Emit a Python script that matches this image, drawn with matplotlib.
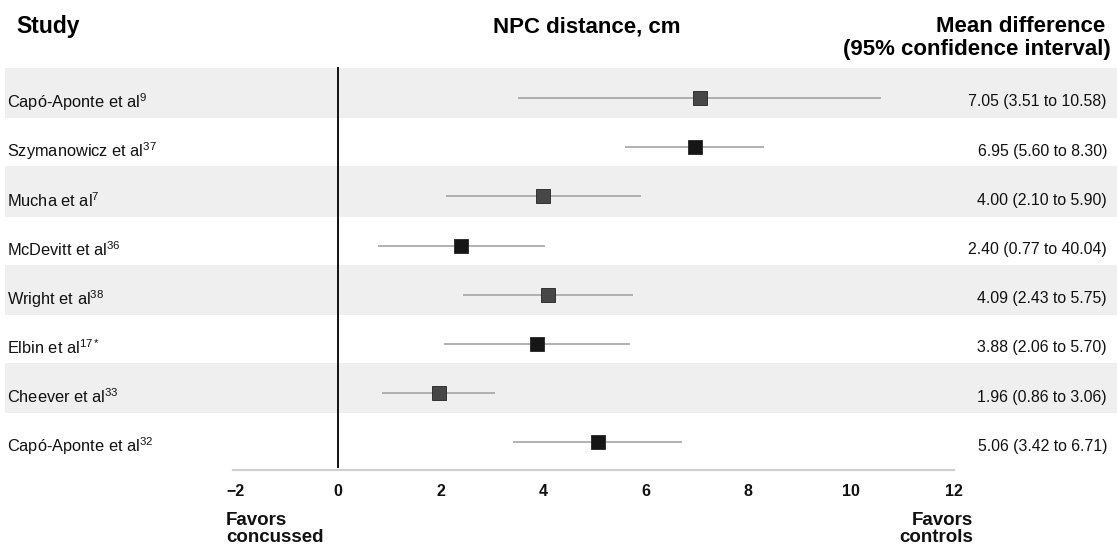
import matplotlib
matplotlib.use("Agg")
import matplotlib.pyplot as plt
from matplotlib import font_manager

studies = ["Capó-Aponte et al", "Szymanowicz et al", "Mucha et al", "McDevitt et al",
           "Wright et al", "Elbin et al", "Cheever et al", "Capó-Aponte et al"]
refs = ["9", "37", "7", "36", "38", "17*", "33", "32"]
mean_diff = [7.05, 6.95, 4.00, 2.40, 4.09, 3.88, 1.96, 5.06]
ci_low = [3.51, 5.60, 2.10, 0.77, 2.43, 2.06, 0.86, 3.42]
ci_high = [10.58, 8.30, 5.90, 4.04, 5.75, 5.70, 3.06, 6.71]
# printed labels as in the source (row 4 upper bound printed as 40.04)
ci_text = ["7.05 (3.51 to 10.58)", "6.95 (5.60 to 8.30)", "4.00 (2.10 to 5.90)",
           "2.40 (0.77 to 40.04)", "4.09 (2.43 to 5.75)", "3.88 (2.06 to 5.70)",
           "1.96 (0.86 to 3.06)", "5.06 (3.42 to 6.71)"]
xticks = [-2, 0, 2, 4, 6, 8, 10, 12]

names = {f.name for f in font_manager.fontManager.ttflist}
sans = "Liberation Sans" if "Liberation Sans" in names else "DejaVu Sans"
narrow = "Liberation Sans Narrow" if "Liberation Sans Narrow" in names else sans

plt.rcParams["font.family"] = [sans, "DejaVu Sans"]
plt.rcParams["mathtext.fontset"] = "custom"
plt.rcParams["mathtext.rm"] = sans
plt.rcParams["mathtext.it"] = sans

W, H = 1117, 548
fig = plt.figure(figsize=(W / 100, H / 100), dpi=100)
ax = fig.add_axes([0, 0, 1, 1])
ax.set_axis_off()

# pixel layout: x=0 at 338 px, 51.3 px per unit; row 0 at 98 px, 49.2 px per row
px_unit, x0 = 51.3, 338
row0, row_h = 98, 49.2
ax.set_xlim(-x0 / px_unit, (W - x0) / px_unit)
ax.set_ylim((H - row0) / row_h, -row0 / row_h)

n = len(studies)
for i in range(n):
    if i % 2 == 0:
        ax.axhspan(i - 0.61, i + 0.41, xmin=5 / W, xmax=1, color="#efefef", lw=0, zorder=0)

ax.plot([0, 0], [-0.6, n - 0.5], color="#111111", lw=1.4, zorder=2)
ax.plot([xticks[0] - 0.05, xticks[-1]], [n - 0.43, n - 0.43], color="#d0d0d0", lw=1.6, zorder=1)

txt_off = 0.08
for i in range(n):
    ax.plot([ci_low[i], ci_high[i]], [i, i], color="#ababab", lw=1.3, zorder=3,
            solid_capstyle="butt")
    fc = "#474747" if i % 2 == 0 else "#161616"
    ax.plot(mean_diff[i], i, marker="s", ms=10, mfc=fc, mec="#222222", mew=0.6, zorder=4)
    ax.text(7 / px_unit - x0 / px_unit, i + txt_off, f"{studies[i]}$^{{{refs[i]}}}$",
            fontsize=11.8, ha="left", va="center", color="#111111")
    ax.text((1107 - x0) / px_unit, i + txt_off, ci_text[i], fontsize=11.4, ha="right",
            va="center", color="#111111")

for t in xticks:
    label = f"\u2212{abs(t)}" if t < 0 else str(t)
    ax.text(t, n - 0.01, label, fontsize=11.5, fontweight="bold", family=narrow,
            ha="center", va="center", color="#111111")

ax.text((226 - x0) / px_unit, n + 0.41, "Favors\nconcussed", fontsize=13.5, fontweight="bold",
        ha="left", va="top", linespacing=1.0, color="#111111")
ax.text((973 - x0) / px_unit, n + 0.41, "Favors\ncontrols", fontsize=13.5, fontweight="bold",
        ha="right", va="top", linespacing=1.0, color="#111111", multialignment="right")

fig.text(16 / W, 1 - 33 / H, "Study", fontsize=16.5, fontweight="bold", ha="left",
         va="baseline")
fig.text(587 / W, 1 - 32 / H, "NPC distance, cm", fontsize=16, fontweight="bold",
         ha="center", va="baseline")
fig.text(1105 / W, 1 - 32 / H, "Mean difference", fontsize=16, fontweight="bold",
         ha="right", va="baseline")
fig.text(1111 / W, 1 - 55 / H, "(95% confidence interval)", fontsize=16, fontweight="bold",
         ha="right", va="baseline")

fig.savefig("out.png", dpi=100, facecolor="white")
